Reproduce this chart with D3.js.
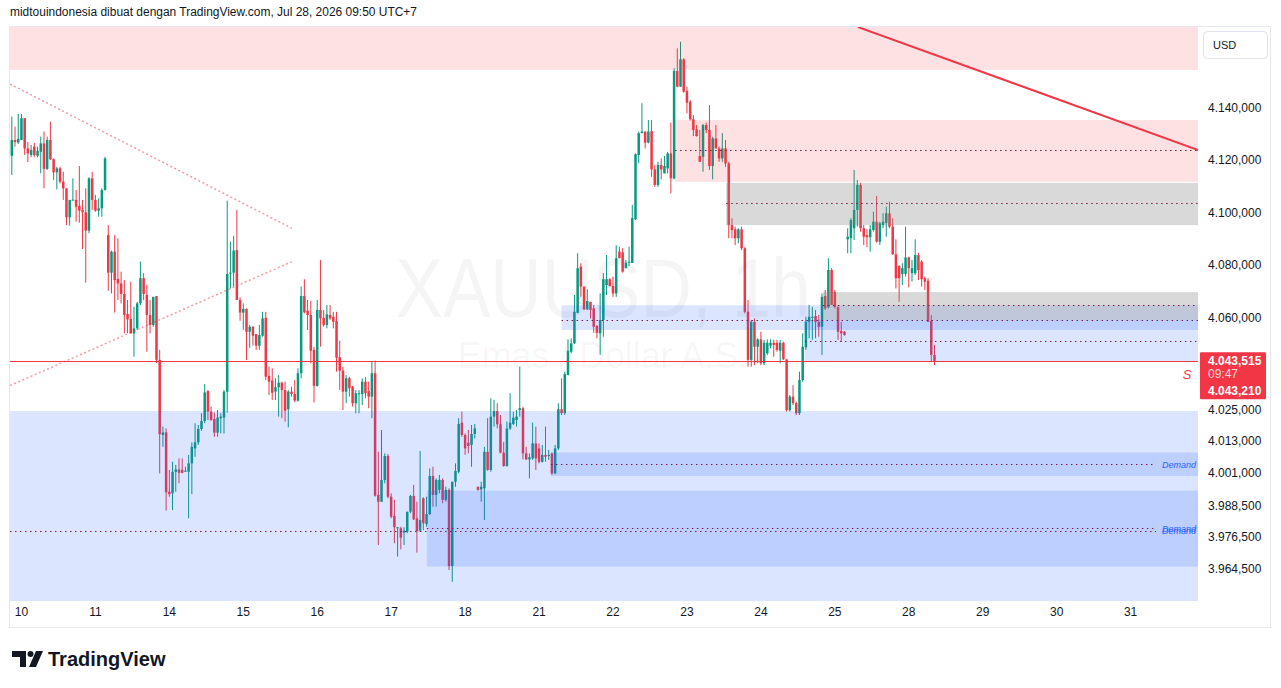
<!DOCTYPE html>
<html>
<head>
<meta charset="utf-8">
<script src="https://cdn.jsdelivr.net/npm/d3@7"></script>
<style>
  body { margin: 0; background: #fff; }
  svg { display: block; font-family: "Liberation Sans", Arial, sans-serif; }
</style>
</head>
<body>
<div id="chart"></div>
<script>
// XAUUSD 1h candles (bar 0 is the cut-off bar at the left edge)
const open = [
  4107.5,4121.7,4127.7,4126.8,4127.7,4136.0,4124.5,4122.0,4125.2,4121.7,
  4123.2,4126.4,4116.7,4127.7,4120.4,4115.4,4116.9,4111.8,4109.3,4098.3,
  4104.7,4104.9,4102.6,4101.1,4100.2,4093.2,4113.1,4104.9,4100.8,4101.7,
  4108.7,4091.5,4077.2,4085.2,4074.8,4073.1,4069.1,4061.5,4059.6,4054.1,
  4056.0,4065.5,4075.1,4068.7,4061.1,4057.3,4068.3,4044.0,4015.4,4016.4,
  3993.8,3993.2,4001.4,4002.3,4002.1,4001.4,4001.4,4004.6,4010.3,4012.6,
  4017.7,4020.7,4032.1,4024.3,4021.5,4016.3,4021.8,4022.0,4031.9,4077.0,
  4077.2,4085.8,4066.8,4062.0,4063.4,4054.7,4056.6,4053.8,4049.4,4053.2,
  4060.0,4037.9,4036.1,4031.9,4033.6,4035.3,4032.5,4025.2,4031.9,4031.0,
  4028.5,4038.9,4068.3,4062.7,4061.1,4047.8,4034.1,4063.0,4060.0,4057.3,
  4061.1,4060.4,4058.8,4045.0,4039.9,4031.9,4037.0,4033.8,4027.5,4031.0,
  4031.0,4035.7,4032.1,4030.0,4038.9,3992.6,3990.0,3998.3,4007.4,3991.9,
  3984.6,3979.9,3979.9,3978.2,3978.6,3986.2,3992.2,3983.7,3979.0,3991.3,
  3981.5,3985.3,3999.8,3992.6,3994.5,3998.3,3990.7,3994.5,3965.5,3997.6,
  4001.4,4020.1,4015.4,4012.5,4011.6,4015.8,3995.7,3994.7,3995.1,4009.0,
  4002.1,4022.4,4024.5,4019.5,4008.7,4003.6,4017.9,4019.6,4021.1,4024.9,
  4025.6,4008.4,4006.1,4006.5,4012.2,4010.3,4005.2,4007.8,4007.4,4008.4,
  4000.8,4010.3,4025.2,4023.7,4038.2,4047.1,4050.3,4061.9,4079.5,4071.9,
  4063.2,4066.1,4063.6,4056.9,4054.1,4059.2,4072.5,4074.7,4072.1,4069.3,
  4085.2,4084.9,4078.9,4081.0,4080.9,4097.5,4122.0,4130.3,4130.9,4126.7,
  4131.1,4116.5,4110.6,4118.2,4115.0,4116.9,4122.6,4113.1,4154.0,4148.0,
  4158.4,4146.4,4142.3,4135.6,4131.8,4121.6,4121.3,4133.4,4131.5,4117.8,
  4128.3,4124.5,4120.7,4124.5,4118.8,4095.3,4093.7,4090.3,4093.7,4086.5,
  4062.3,4044.0,4058.5,4049.0,4051.8,4042.7,4046.5,4049.4,4050.5,4050.5,
  4047.5,4050.5,4044.2,4024.9,4030.0,4027.5,4023.7,4036.3,4048.8,4058.5,
  4060.2,4060.7,4058.5,4056.6,4068.3,4064.0,4078.2,4069.9,4064.2,4055.0,
  4054.7,4089.9,4090.3,4094.1,4101.1,4110.6,4094.1,4091.5,4090.7,4093.4,
  4096.6,4089.0,4095.3,4096.2,4099.8,4094.7,4084.2,4079.7,4076.7,4076.7,
  4083.0,4077.0,4077.0,4083.9,4081.4,4075.1,4074.1,4058.8,4045.9
];
const high = [
  4122.0,4136.6,4132.8,4137.6,4137.6,4136.1,4126.9,4125.8,4126.6,4125.2,
  4129.0,4130.9,4129.0,4134.7,4120.7,4117.5,4117.5,4115.6,4109.3,4104.9,
  4113.1,4108.7,4117.8,4104.9,4109.3,4113.5,4115.6,4106.8,4105.5,4109.3,
  4121.3,4095.3,4085.6,4091.5,4090.3,4077.6,4074.4,4066.8,4073.8,4064.2,
  4066.1,4081.4,4077.0,4072.5,4066.8,4068.0,4068.3,4047.8,4018.6,4017.9,
  4002.1,4005.2,4004.0,4006.5,4006.5,4003.3,4007.8,4012.6,4019.9,4019.2,
  4023.7,4034.8,4032.5,4026.2,4023.9,4024.9,4023.7,4032.5,4104.6,4089.0,
  4091.2,4101.1,4067.8,4065.5,4063.6,4057.3,4056.9,4053.8,4057.3,4062.3,
  4062.3,4041.4,4040.8,4037.0,4038.2,4035.7,4035.7,4032.5,4033.8,4036.3,
  4040.8,4071.9,4074.7,4066.8,4066.5,4049.0,4066.8,4082.0,4063.0,4064.9,
  4064.9,4062.3,4062.3,4051.3,4041.4,4038.2,4037.6,4034.1,4032.5,4032.5,
  4037.0,4037.4,4035.7,4043.3,4043.7,4009.0,4017.3,4008.4,4008.2,3993.2,
  3990.7,3980.3,3980.5,3980.3,3986.2,3992.6,3996.4,3990.0,4009.3,3991.7,
  3991.9,4002.7,4003.3,3998.9,4000.2,3998.9,3995.7,3995.1,3997.6,4004.6,
  4021.8,4024.3,4016.0,4017.3,4019.2,4019.6,3995.7,3997.6,4010.9,4021.8,
  4029.4,4028.7,4027.5,4023.0,4012.8,4020.5,4031.3,4024.3,4024.9,4041.4,
  4026.2,4010.9,4008.4,4020.1,4018.6,4012.2,4011.6,4018.6,4009.7,4008.7,
  4011.6,4027.5,4037.0,4039.5,4051.8,4052.2,4068.7,4084.6,4080.8,4071.9,
  4070.9,4066.1,4064.9,4057.3,4069.3,4077.0,4083.9,4075.1,4075.7,4087.7,
  4087.1,4086.5,4082.0,4087.1,4103.0,4122.6,4130.9,4141.7,4130.9,4135.3,
  4135.3,4118.2,4119.4,4120.7,4121.6,4123.2,4134.3,4155.0,4162.6,4165.1,
  4158.8,4148.0,4142.9,4137.2,4133.4,4131.5,4133.8,4134.3,4141.0,4129.0,
  4133.4,4125.2,4130.3,4127.7,4119.4,4097.9,4094.7,4094.1,4094.7,4086.9,
  4066.8,4059.2,4059.8,4052.2,4054.7,4051.6,4051.8,4051.8,4051.6,4051.6,
  4051.6,4050.9,4044.2,4030.6,4034.4,4028.1,4039.5,4054.1,4060.4,4064.9,
  4064.2,4063.0,4061.1,4069.3,4070.6,4082.7,4078.9,4070.6,4064.2,4058.5,
  4055.0,4094.1,4097.9,4116.3,4112.5,4111.4,4095.3,4093.7,4095.3,4100.4,
  4106.4,4096.6,4099.8,4102.3,4104.2,4097.9,4089.9,4080.1,4080.8,4094.7,
  4083.3,4082.0,4089.9,4084.8,4082.0,4075.7,4075.1,4061.1,4049.7
];
const low = [
  4107.5,4114.4,4125.2,4126.2,4127.7,4122.0,4119.3,4121.2,4121.2,4121.1,
  4115.0,4109.3,4116.3,4120.1,4112.5,4108.9,4111.2,4104.9,4095.3,4095.1,
  4104.7,4096.6,4096.2,4086.2,4073.4,4092.2,4101.1,4100.4,4098.5,4098.5,
  4108.4,4070.3,4069.3,4062.0,4066.8,4065.5,4054.1,4054.1,4054.1,4045.2,
  4055.4,4064.9,4066.8,4047.1,4054.1,4056.6,4042.8,4000.8,4010.9,3986.6,
  3991.9,3986.8,3993.8,3997.0,4000.8,4001.4,3983.7,3992.9,4007.1,4011.6,
  4017.0,4019.9,4021.1,4020.8,4014.7,4014.7,4016.0,4016.0,4023.9,4071.2,
  4071.9,4066.8,4058.9,4055.4,4044.0,4048.6,4049.4,4047.8,4047.8,4052.8,
  4036.3,4030.6,4028.7,4028.7,4022.4,4021.8,4020.5,4018.3,4030.0,4027.9,
  4028.1,4037.0,4061.7,4055.4,4042.7,4027.8,4033.8,4049.0,4056.6,4056.0,
  4059.2,4056.0,4039.5,4032.5,4024.9,4027.5,4030.0,4026.2,4023.7,4023.7,
  4026.8,4029.4,4025.6,4021.8,3991.9,3973.5,3990.0,3997.0,3991.3,3983.7,
  3974.2,3969.1,3971.9,3973.5,3978.0,3985.6,3983.0,3970.6,3978.6,3979.2,
  3980.5,3984.9,3988.1,3988.1,3993.2,3989.4,3990.0,3964.0,3959.5,3995.7,
  4000.8,4014.7,4007.8,4008.4,4003.3,4014.1,3994.2,3990.0,3983.0,4001.8,
  4001.4,4018.6,4017.9,4008.4,4003.3,4003.3,4017.3,4019.2,4018.6,4022.4,
  4006.1,4005.9,3998.9,4005.9,4002.1,4004.6,4004.9,4005.2,4005.9,4000.2,
  4000.5,4009.7,4023.0,4023.0,4038.2,4046.5,4050.0,4061.7,4068.0,4063.0,
  4063.0,4059.8,4054.3,4052.2,4045.9,4052.8,4068.7,4071.9,4068.0,4068.0,
  4082.7,4077.2,4078.9,4079.7,4080.9,4097.2,4118.8,4130.3,4124.5,4126.4,
  4113.7,4109.9,4109.9,4112.7,4115.0,4115.0,4107.4,4112.7,4147.8,4148.0,
  4145.7,4137.9,4135.1,4129.2,4129.0,4119.4,4115.6,4130.3,4116.3,4112.7,
  4124.5,4119.4,4119.4,4117.5,4090.3,4090.3,4087.7,4088.4,4085.8,4061.7,
  4041.4,4041.4,4042.0,4042.7,4042.0,4042.0,4045.9,4048.4,4045.2,4047.1,
  4042.7,4044.0,4024.3,4024.3,4026.8,4023.0,4023.0,4035.7,4047.8,4052.2,
  4051.6,4052.2,4052.8,4045.9,4063.0,4063.6,4064.9,4063.6,4051.6,4050.9,
  4053.2,4084.6,4084.6,4089.6,4094.7,4092.8,4087.7,4086.9,4085.2,4092.8,
  4088.6,4087.7,4094.1,4090.9,4094.1,4083.9,4071.2,4066.1,4072.5,4075.7,
  4071.6,4073.8,4076.3,4074.4,4071.9,4070.6,4058.5,4043.3,4042.0
];
const close = [
  4120.8,4127.7,4126.9,4128.1,4136.0,4124.5,4122.6,4123.9,4122.0,4123.6,
  4126.4,4116.7,4127.7,4120.4,4115.4,4116.9,4111.8,4109.3,4098.3,4104.9,
  4105.0,4102.3,4100.8,4100.2,4093.2,4113.1,4104.9,4100.8,4101.7,4108.7,
  4120.7,4077.2,4085.2,4074.4,4073.1,4069.1,4061.1,4059.4,4054.1,4056.0,
  4065.5,4075.1,4069.1,4061.1,4057.3,4068.0,4044.0,4015.7,4016.4,3993.6,
  3992.9,4001.4,4002.3,4001.0,4001.0,4001.8,4004.6,4010.9,4012.6,4017.7,
  4020.7,4031.6,4024.3,4021.1,4016.3,4022.1,4022.4,4031.9,4076.7,4077.2,
  4085.6,4066.8,4062.0,4063.4,4054.7,4056.6,4053.2,4049.4,4053.5,4059.8,
  4037.6,4035.7,4031.5,4033.6,4035.3,4032.5,4024.6,4031.9,4031.0,4028.5,
  4038.9,4068.3,4062.1,4061.1,4047.5,4034.1,4063.0,4059.8,4057.3,4061.3,
  4059.8,4058.5,4044.8,4039.9,4031.9,4037.0,4033.2,4027.5,4031.3,4031.3,
  4035.7,4031.3,4030.0,4038.9,3992.3,3990.0,3998.3,4007.4,3991.9,3984.3,
  3980.3,3980.3,3976.3,3979.0,3986.2,3992.2,3983.3,3978.8,3983.0,3981.8,
  3985.3,3999.8,3992.6,3998.3,3998.3,3990.7,3994.5,3965.5,3997.6,4001.7,
  4019.6,4015.4,4010.3,4011.2,4015.8,4017.9,3994.5,3995.7,4009.0,4002.1,
  4022.4,4024.5,4019.5,4008.7,4003.6,4017.9,4020.1,4022.0,4022.4,4025.6,
  4008.4,4006.1,4006.9,4012.2,4006.5,4005.2,4007.8,4007.1,4007.8,4000.8,
  4010.3,4025.2,4023.7,4038.6,4047.5,4050.3,4062.3,4078.9,4071.9,4063.2,
  4066.4,4063.0,4056.6,4054.3,4059.2,4074.7,4074.7,4072.1,4069.3,4082.7,
  4082.7,4077.6,4081.0,4081.4,4098.0,4122.3,4130.3,4130.9,4126.7,4130.9,
  4116.5,4110.6,4118.2,4116.5,4117.8,4122.6,4113.1,4154.0,4148.0,4158.4,
  4146.1,4141.9,4135.6,4131.5,4129.2,4119.4,4133.4,4131.5,4117.8,4128.3,
  4124.5,4120.7,4124.5,4118.8,4095.3,4093.4,4090.3,4093.7,4086.5,4062.3,
  4044.0,4058.5,4049.0,4051.8,4042.7,4050.5,4050.5,4050.5,4049.7,4047.8,
  4050.5,4044.2,4024.9,4030.0,4027.5,4023.7,4036.3,4049.0,4058.5,4060.4,
  4060.4,4058.5,4056.6,4068.0,4063.6,4078.2,4064.9,4064.2,4054.7,4054.1,
  4053.5,4090.9,4097.2,4101.1,4110.6,4094.1,4090.9,4090.7,4093.7,4096.6,
  4089.0,4096.0,4096.6,4099.8,4094.7,4084.2,4075.1,4075.1,4078.9,4083.0,
  4078.9,4078.9,4083.9,4078.2,4074.7,4073.8,4058.5,4045.9,4043.5
];

// time axis: day label and the bar it sits on
const dayLabels = ["10","11","14","15","16","17","18","21","22","23","24","25","28","29","30","31"];
const dayBars = [4,27,50,73,96,119,142,165,188,211,234,257,280,303,326,349];

// price axis
const priceTicks = [4140, 4120, 4100, 4080, 4060, 4025, 4013, 4001, 3988.5, 3976.5, 3964.5];
const lastPrice = 4043.515;
const secondPrice = 4043.210;
const countdown = "09:47";

// supply / demand zones (start bar, top, bottom, middle line, kind, label)
const zoneFrom   = [-2, 207.3, 223.2, 172.0, 253.3, 247.7, -2, 168.7, 130.1];
const zoneTop    = [4200, 4135.3, 4111.4, 4064.8, 4069.8, 4059.2, 4024.5, 4008.7, 3994.2];
const zoneBottom = [4154.4, 4111.8, 4095.3, 4055.4, 4059.2, 4043.4, 3900, 3999.8, 3965.3];
const zoneMid    = [null, 4123.9, 4103.6, 4059.1, 4064.8, 4051.2, 3978.9, 4004.2, 3979.9];
const zoneKind   = ["supply","supply","neutral","demand","neutral","demand","demand","demand","demand"];
const zoneLabel  = ["","","","","","","Demand","Demand","Demand"];

// drawn trend lines [bar, price]
const trendStart = [[264.2, 4170.7], [0.44, 4149.0], [0.44, 4034.2]];
const trendEnd   = [[370.0, 4123.9], [88.1, 4094.1], [88.1, 4081.4]];
const trendKind  = ["solid", "dotted", "dotted"];

const W = 1281, H = 688;
const plot = { left: 10, right: 1198, top: 27, bottom: 601 };
const up = "#089981", down = "#f23645";
const zoneFill = {
    supply: "rgba(242,54,69,0.15)",
    neutral: "rgba(128,128,128,0.30)",
    demand: "rgba(41,98,255,0.17)"
};

const x = d3.scaleLinear().domain([0, 349]).range([8.6, 1130.6]);
const y = d3.scaleLinear().domain([3964.5, 4140]).range([568.7, 107.7]);

const idLocale = d3.formatLocale({ decimal: ",", thousands: ".", grouping: [3], currency: ["", ""] });
const fmtPrice = idLocale.format(",.3f");

const svg = d3.select("#chart").append("svg")
    .attr("width", W)
    .attr("height", H);

svg.append("rect").attr("width", W).attr("height", H).attr("fill", "#fff");

svg.append("defs").append("clipPath")
    .attr("id", "plot-clip")
    .append("rect")
    .attr("x", plot.left)
    .attr("y", plot.top)
    .attr("width", plot.right - plot.left)
    .attr("height", plot.bottom - plot.top);

// header line
svg.append("text")
    .attr("x", 10)
    .attr("y", 16)
    .attr("fill", "#131722")
    .style("font-size", "12px")
    .attr("textLength", 407)
    .attr("lengthAdjust", "spacingAndGlyphs")
    .text("midtouindonesia dibuat dengan TradingView.com, Jul 28, 2026 09:50 UTC+7");

// chart frame
svg.append("rect")
    .attr("x", 9.5)
    .attr("y", 26.5)
    .attr("width", 1261)
    .attr("height", 601)
    .attr("fill", "none")
    .attr("stroke", "#e6e8ee");

const pg = svg.append("g").attr("clip-path", "url(#plot-clip)");

// watermark
pg.append("text")
    .attr("x", 603)
    .attr("y", 317)
    .attr("text-anchor", "middle")
    .attr("fill", "rgba(19,23,34,0.045)")
    .style("font-size", "84px")
    .attr("textLength", 415)
    .attr("lengthAdjust", "spacingAndGlyphs")
    .text("XAUUSD, 1h");

pg.append("text")
    .attr("x", 603)
    .attr("y", 368)
    .attr("text-anchor", "middle")
    .attr("fill", "rgba(19,23,34,0.045)")
    .style("font-size", "36px")
    .attr("textLength", 290)
    .attr("lengthAdjust", "spacingAndGlyphs")
    .text("Emas / Dollar A.S.");

// candles
const bars = open.map((o, i) => ({ i, o, h: high[i], l: low[i], c: close[i] }));

pg.append("g").selectAll("line")
    .data(bars)
    .join("line")
    .attr("x1", d => x(d.i))
    .attr("x2", d => x(d.i))
    .attr("y1", d => y(d.h))
    .attr("y2", d => y(d.l))
    .attr("stroke", d => d.c >= d.o ? up : down)
    .attr("stroke-width", 1);

pg.append("g").selectAll("rect")
    .data(bars)
    .join("rect")
    .attr("x", d => x(d.i) - 1.25)
    .attr("width", 2.5)
    .attr("y", d => y(Math.max(d.o, d.c)))
    .attr("height", d => Math.max(1, Math.abs(y(d.o) - y(d.c))))
    .attr("fill", d => d.c >= d.o ? up : down);

// zones on top of the candles
const zones = zoneFrom.map((f, k) => ({
    from: f, top: zoneTop[k], bottom: zoneBottom[k], mid: zoneMid[k],
    kind: zoneKind[k], label: zoneLabel[k]
}));

pg.append("g").selectAll("rect")
    .data(zones)
    .join("rect")
    .attr("x", d => x(d.from))
    .attr("width", d => plot.right - x(d.from))
    .attr("y", d => y(d.top))
    .attr("height", d => y(d.bottom) - y(d.top))
    .attr("fill", d => zoneFill[d.kind]);

pg.append("g").selectAll("line")
    .data(zones.filter(d => d.mid !== null))
    .join("line")
    .attr("x1", d => Math.max(plot.left, x(d.from)))
    .attr("x2", d => d.label ? 1156 : plot.right)
    .attr("y1", d => Math.round(y(d.mid)) + 0.5)
    .attr("y2", d => Math.round(y(d.mid)) + 0.5)
    .attr("stroke", "#7a1c45")
    .attr("stroke-width", 1.2)
    .attr("stroke-dasharray", "1.5,3.5");

svg.append("g").selectAll("text")
    .data(zones.filter(d => d.label))
    .join("text")
    .attr("x", 1196)
    .attr("y", d => y(d.mid) + 3.5)
    .attr("text-anchor", "end")
    .attr("fill", "#2962ff")
    .style("font-size", "9px")
    .style("font-style", "italic")
    .text(d => d.label);

// trend lines
pg.append("g").selectAll("line")
    .data(trendStart.map((s, k) => ({ s, e: trendEnd[k], kind: trendKind[k] })))
    .join("line")
    .attr("x1", d => x(d.s[0]))
    .attr("y1", d => y(d.s[1]))
    .attr("x2", d => x(d.e[0]))
    .attr("y2", d => y(d.e[1]))
    .attr("stroke", "#f23645")
    .attr("stroke-width", d => d.kind === "solid" ? 2 : 1.5)
    .attr("stroke-opacity", d => d.kind === "solid" ? 1 : 0.5)
    .attr("stroke-dasharray", d => d.kind === "solid" ? null : "2,2.5");

// last price line
const lastY = Math.round(y(lastPrice));
pg.append("rect")
    .attr("x", plot.left)
    .attr("y", lastY)
    .attr("width", plot.right - plot.left)
    .attr("height", 1)
    .attr("fill", "#f23645")
    .attr("shape-rendering", "crispEdges");

svg.append("text")
    .attr("x", 1187)
    .attr("y", y(lastPrice) + 18)
    .attr("text-anchor", "middle")
    .attr("fill", "#f23645")
    .style("font-size", "13px")
    .style("font-style", "italic")
    .text("S");

// price axis
svg.append("g").selectAll("text")
    .data(priceTicks)
    .join("text")
    .attr("x", 1208)
    .attr("y", d => y(d) + 4)
    .attr("fill", "#131722")
    .style("font-size", "12px")
    .text(d => fmtPrice(d));

svg.append("rect")
    .attr("x", 1203.5)
    .attr("y", 31.5)
    .attr("width", 64)
    .attr("height", 27)
    .attr("rx", 4)
    .attr("fill", "#fff")
    .attr("stroke", "#e0e3eb");

svg.append("text")
    .attr("x", 1213)
    .attr("y", 49)
    .attr("fill", "#131722")
    .style("font-size", "11px")
    .text("USD");

// last price tag
const tagTop = y(lastPrice) - 9;
svg.append("rect")
    .attr("x", 1200)
    .attr("y", tagTop)
    .attr("width", 66)
    .attr("height", 47)
    .attr("rx", 1)
    .attr("fill", "#f23645");

svg.append("text")
    .attr("x", 1208)
    .attr("y", tagTop + 13)
    .attr("fill", "#fff")
    .style("font-size", "12px")
    .style("font-weight", "bold")
    .text(fmtPrice(lastPrice));

svg.append("text")
    .attr("x", 1208)
    .attr("y", tagTop + 26)
    .attr("fill", "rgba(255,255,255,0.8)")
    .style("font-size", "12px")
    .text(countdown);

svg.append("text")
    .attr("x", 1208)
    .attr("y", tagTop + 43)
    .attr("fill", "#fff")
    .style("font-size", "12px")
    .style("font-weight", "bold")
    .text(fmtPrice(secondPrice));

// time axis
svg.append("g").selectAll("text")
    .data(dayLabels)
    .join("text")
    .attr("x", (d, k) => x(dayBars[k]))
    .attr("y", 616)
    .attr("text-anchor", "middle")
    .attr("fill", "#131722")
    .style("font-size", "12px")
    .text(d => d);

// TradingView logo
const logo = svg.append("g").attr("fill", "#131722");
logo.append("path").attr("d", "M12,651 H26 V667 H20 V657 H12 Z");
logo.append("circle").attr("cx", 30.5).attr("cy", 654).attr("r", 3);
logo.append("path").attr("d", "M36,651 H43 L36,667 H29 Z");
logo.append("text")
    .attr("x", 48)
    .attr("y", 666)
    .style("font-size", "20px")
    .style("font-weight", "bold")
    .text("TradingView");
</script>
</body>
</html>
